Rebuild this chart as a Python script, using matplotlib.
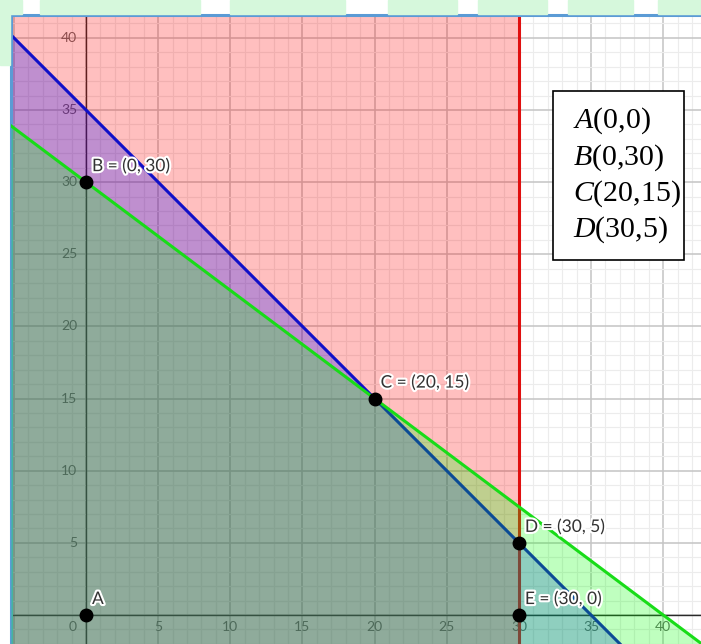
import matplotlib
matplotlib.use("Agg")
import matplotlib.pyplot as plt
import matplotlib.patheffects as pe
from matplotlib.patches import Rectangle
import numpy as np

# constraints a*x + b*y <= c  (drawn in this order: red, blue, green)
con_a = [1, 1, 3]
con_b = [0, 1, 4]
con_c = [30, 35, 120]
fill_colors = ["#ff0000", "#0000ff", "#00ff00"]
line_colors = ["#e01010", "#1010c8", "#18dc18"]

# labelled points
point_x = [0, 0, 20, 30, 30]
point_y = [0, 30, 15, 5, 0]
point_labels = ["A", "B = (0, 30)", "C = (20, 15)", "D = (30, 5)", "E = (30, 0)"]

# corner points listed in the box
box_lines = [r"$A(0{,}0)$", r"$B(0{,}30)$", r"$C(20{,}15)$", r"$D(30{,}5)$"]

x_ticks = [0, 5, 10, 15, 20, 25, 30, 35, 40]
y_ticks = [5, 10, 15, 20, 25, 30, 35, 40]

plt.rcParams["mathtext.fontset"] = "custom"
plt.rcParams["mathtext.rm"] = "Liberation Serif"
plt.rcParams["mathtext.it"] = "Liberation Serif:italic"

W, H = 701, 644
fig = plt.figure(figsize=(W / 100, H / 100), dpi=100)
fig.patch.set_facecolor("white")

# page chrome around the graphics view
green_bg = "#d6f8dc"
for x0, x1 in [(0, 22), (40, 200), (230, 345), (388, 457), (478, 547), (568, 633), (658, 701)]:
    fig.patches.append(Rectangle((x0 / W, 1 - 14 / H), (x1 - x0) / W, 14 / H,
                                 transform=fig.transFigure, color=green_bg, zorder=0))
fig.patches.append(Rectangle((0, 1 - 65 / H), 10 / W, 65 / H,
                             transform=fig.transFigure, color=green_bg, zorder=0))

ax = fig.add_axes([11 / W, 0, (W - 11) / W, (H - 15) / H])
px = 14.43
ox, oy = 86, 615
xmin, xmax = (11 - ox) / px, (W - ox) / px
ymin, ymax = (oy - H) / px, (oy - 15) / px

# grid
ax.set_xticks(np.arange(-5, 45, 5))
ax.set_yticks(np.arange(-5, 45, 5))
ax.set_xticks(np.arange(-5, 43, 1), minor=True)
ax.set_yticks(np.arange(-2, 42, 1), minor=True)
ax.set_xlim(xmin, xmax)
ax.set_ylim(ymin, ymax)
ax.set_axisbelow(True)
ax.grid(which="major", color="#c4c4c4", lw=1.1)
ax.grid(which="minor", color="#ececec", lw=0.8)
ax.tick_params(which="both", length=0, labelbottom=False, labelleft=False)

for s in ["right", "bottom"]:
    ax.spines[s].set_visible(False)
for s in ["left", "top"]:
    ax.spines[s].set_color("#5b9bd5")
    ax.spines[s].set_linewidth(2.2)

# axes
ax.axhline(0, color="#2a2a2a", lw=1.0, zorder=0.8)
ax.axvline(0, color="#2a2a2a", lw=1.0, zorder=0.8)

# tick labels (under the shading like in the original)
for t in x_ticks:
    ax.text(t if t else -0.9, -0.85, str(t), ha="center", va="center",
            fontsize=10, color="#666666", family="Lato", zorder=0.9)
for t in y_ticks:
    ax.text(-0.6, t, str(t), ha="right", va="center",
            fontsize=10, color="#666666", family="Lato", zorder=0.9)

# half planes and boundary lines
xs = np.linspace(xmin, xmax, 200)
for i, (a, b, c) in enumerate(zip(con_a, con_b, con_c)):
    z = 1 + i
    if b == 0:
        ax.axvspan(xmin, c / a, color=fill_colors[i], alpha=0.25, lw=0, zorder=z)
        ax.axvline(c / a, color=line_colors[i], lw=2.2, zorder=z + 0.1)
    else:
        ys = (c - a * xs) / b
        ax.fill_between(xs, ymin, ys, color=fill_colors[i], alpha=0.25, lw=0, zorder=z)
        ax.plot(xs, ys, color=line_colors[i], lw=2.2, zorder=z + 0.1)

# points
ax.plot(point_x, point_y, "o", color="black", ms=9, zorder=10)
for x, y, lab in zip(point_x, point_y, point_labels):
    ax.annotate(lab, (x, y), xytext=(6, 16), textcoords="offset pixels",
                ha="left", va="center", fontsize=12.5, color="#333333", family="Lato",
                zorder=11, path_effects=[pe.withStroke(linewidth=3, foreground="white")])

# info box
fig.patches.append(Rectangle((553 / W, 1 - 260 / H), (684 - 553) / W, (260 - 91) / H,
                             transform=fig.transFigure, facecolor="white",
                             edgecolor="black", lw=1.2, zorder=20))
for i, s in enumerate(box_lines):
    fig.text(573 / W, 1 - (121 + 36.3 * i) / H, s, ha="left", va="center",
             fontsize=21.5, color="black", zorder=21)

fig.savefig("out.png", dpi=100)
